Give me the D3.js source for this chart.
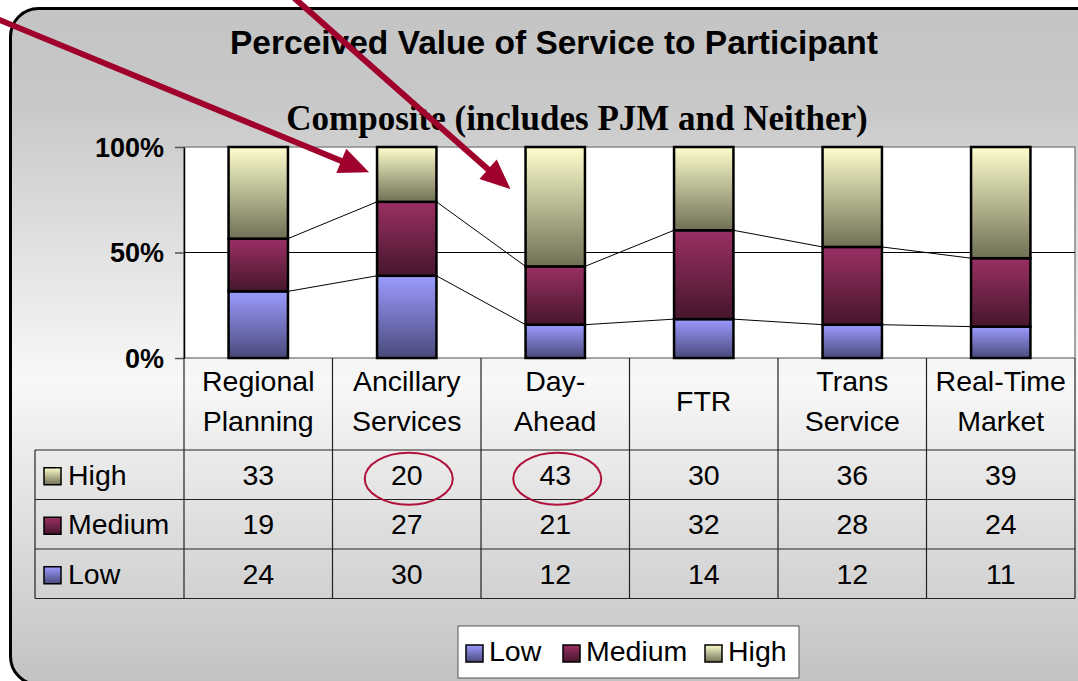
<!DOCTYPE html>
<html>
<head>
<meta charset="utf-8">
<script src="https://cdn.jsdelivr.net/npm/d3@7"></script>
<style>
    body { margin: 0; background: #fff; }
    svg { display: block; font-family: "Liberation Sans", Arial, sans-serif; }
</style>
</head>
<body>
<div id="chart"></div>
<script>
// data
var categories = ["Regional Planning", "Ancillary Services", "Day-Ahead", "FTR", "Trans Service", "Real-Time Market"];
var categoryLines = [["Regional", "Planning"], ["Ancillary", "Services"], ["Day-", "Ahead"], ["FTR"], ["Trans", "Service"], ["Real-Time", "Market"]];
var seriesNames = ["Low", "Medium", "High"];
var low = [24, 30, 12, 14, 12, 11];
var medium = [19, 27, 21, 32, 28, 24];
var high = [33, 20, 43, 30, 36, 39];
var yTicks = [0, 0.5, 1];

var width = 1078, height = 681;

var svg = d3.select("#chart").append("svg")
    .attr("width", width)
    .attr("height", height);

var defs = svg.append("defs");

// gradients for bar fills (light at top, dark at bottom)
var fills = {
    Low: ["#9b9bff", "#4a4a7c"],
    Medium: ["#9a3064", "#46162c"],
    High: ["#fdfdcc", "#707056"]
};
seriesNames.forEach(function(s) {
    var g = defs.append("linearGradient")
        .attr("id", "grad-" + s)
        .attr("x1", 0).attr("y1", 0).attr("x2", 0).attr("y2", 1);
    g.append("stop").attr("offset", "0%").attr("stop-color", fills[s][0]);
    g.append("stop").attr("offset", "100%").attr("stop-color", fills[s][1]);
});

// background gradient of the chart area
var bg = defs.append("linearGradient")
    .attr("id", "bg")
    .attr("x1", 0).attr("y1", 0).attr("x2", 0).attr("y2", 1);
bg.append("stop").attr("offset", "0%").attr("stop-color", "#c4c4c4");
bg.append("stop").attr("offset", "14%").attr("stop-color", "#c8c8c8");
bg.append("stop").attr("offset", "55%").attr("stop-color", "#f8f8f8");
bg.append("stop").attr("offset", "100%").attr("stop-color", "#c2c2c2");

// outer rounded frame
svg.append("rect")
    .attr("x", 10.5)
    .attr("y", 8.5)
    .attr("width", 1100)
    .attr("height", 676)
    .attr("rx", 28)
    .attr("fill", "url(#bg)")
    .attr("stroke", "#000")
    .attr("stroke-width", 3);

// set the ranges
var x = d3.scaleBand()
    .domain(categories)
    .range([184, 1075])
    .padding(0);

var y = d3.scaleLinear()
    .domain([0, 1])
    .range([358, 147]);

var barWidth = x.bandwidth() * 0.4;

// plot area
svg.append("rect")
    .attr("x", x.range()[0])
    .attr("y", y(1))
    .attr("width", x.range()[1] - x.range()[0])
    .attr("height", y(0) - y(1))
    .attr("fill", "#fff")
    .attr("stroke", "#888")
    .attr("stroke-width", 1.5);

// gridline at 50%
svg.append("line")
    .attr("x1", x.range()[0]).attr("x2", x.range()[1])
    .attr("y1", y(0.5)).attr("y2", y(0.5))
    .attr("stroke", "#000")
    .attr("stroke-width", 1);

// stack as 100%
var rows = categories.map(function(c, i) {
    return { category: c, Low: low[i], Medium: medium[i], High: high[i] };
});
var stacked = d3.stack()
    .keys(seriesNames)
    .offset(d3.stackOffsetExpand)(rows);

// series lines between bars (top of Low and top of Medium)
stacked.slice(0, 2).forEach(function(layer) {
    for (var i = 0; i < layer.length - 1; i++) {
        svg.append("line")
            .attr("x1", x(categories[i]) + (x.bandwidth() + barWidth) / 2)
            .attr("y1", y(layer[i][1]))
            .attr("x2", x(categories[i + 1]) + (x.bandwidth() - barWidth) / 2)
            .attr("y2", y(layer[i + 1][1]))
            .attr("stroke", "#000")
            .attr("stroke-width", 1);
    }
});

// bars
svg.selectAll(".layer")
    .data(stacked)
    .enter().append("g")
    .attr("class", "layer")
    .attr("fill", d => "url(#grad-" + d.key + ")")
    .selectAll("rect")
    .data(d => d)
    .enter().append("rect")
    .attr("x", d => x(d.data.category) + (x.bandwidth() - barWidth) / 2)
    .attr("y", d => y(d[1]))
    .attr("width", barWidth)
    .attr("height", d => y(d[0]) - y(d[1]))
    .attr("stroke", "#000")
    .attr("stroke-width", 2.5);

// y axis
var yAxis = svg.append("g")
    .attr("transform", "translate(" + x.range()[0] + ",0)")
    .call(d3.axisLeft(y)
        .tickValues(yTicks)
        .tickFormat(d3.format(".0%"))
        .tickSize(9)
        .tickSizeOuter(0));
yAxis.select(".domain").attr("stroke", "#000").attr("stroke-width", 1.5);
yAxis.selectAll(".tick line").attr("stroke", "#555").attr("stroke-width", 1.5);
yAxis.selectAll(".tick text")
    .attr("x", -20)
    .attr("dy", "0.35em")
    .style("font-family", "'Liberation Sans', Arial, sans-serif")
    .style("font-size", "27px")
    .style("font-weight", "bold")
    .attr("fill", "#000");

// data table
var tableLeft = 35, tableRight = x.range()[1];
var headerBottom = 450;
var rowHeight = 49.5;
var tableRows = [
    { name: "High", values: high },
    { name: "Medium", values: medium },
    { name: "Low", values: low }
];
var tableBottom = headerBottom + rowHeight * tableRows.length;
var grid = svg.append("g").attr("stroke", "#222").attr("stroke-width", 1.2);

// vertical lines
categories.forEach(function(c) {
    grid.append("line")
        .attr("x1", x(c)).attr("x2", x(c))
        .attr("y1", y(0)).attr("y2", tableBottom);
});
grid.append("line")
    .attr("x1", tableRight).attr("x2", tableRight)
    .attr("y1", y(0)).attr("y2", tableBottom);
grid.append("line")
    .attr("x1", tableLeft).attr("x2", tableLeft)
    .attr("y1", headerBottom).attr("y2", tableBottom);
// horizontal lines
d3.range(tableRows.length + 1).forEach(function(i) {
    grid.append("line")
        .attr("x1", tableLeft).attr("x2", tableRight)
        .attr("y1", headerBottom + i * rowHeight).attr("y2", headerBottom + i * rowHeight);
});

// category labels
categories.forEach(function(c, i) {
    var lines = categoryLines[i];
    var cy = (y(0) + headerBottom) / 2 - 3;
    var t = svg.append("text")
        .attr("x", x(c) + x.bandwidth() / 2)
        .attr("y", cy - (lines.length - 1) * 20)
        .attr("text-anchor", "middle")
        .style("font-size", "28.5px");
    lines.forEach(function(l, k) {
        t.append("tspan")
            .attr("x", x(c) + x.bandwidth() / 2)
            .attr("dy", k == 0 ? "0.35em" : "40px")
            .text(l);
    });
});

// table rows
tableRows.forEach(function(r, ri) {
    var cy = headerBottom + ri * rowHeight + rowHeight / 2;
    svg.append("rect")
        .attr("x", 44).attr("y", cy - 7)
        .attr("width", 17).attr("height", 17)
        .attr("fill", "url(#grad-" + r.name + ")")
        .attr("stroke", "#000")
        .attr("stroke-width", 1.5);
    svg.append("text")
        .attr("x", 68).attr("y", cy)
        .attr("dy", "0.35em")
        .style("font-size", "28.5px")
        .text(r.name);
    r.values.forEach(function(v, i) {
        svg.append("text")
            .attr("x", x(categories[i]) + x.bandwidth() / 2)
            .attr("y", cy)
            .attr("dy", "0.35em")
            .attr("text-anchor", "middle")
            .style("font-size", "28.5px")
            .text(v);
    });
});

// titles
svg.append("text")
    .attr("x", 554).attr("y", 54)
    .attr("text-anchor", "middle")
    .style("font-size", "33.5px")
    .style("font-weight", "bold")
    .text("Perceived Value of Service to Participant");

svg.append("text")
    .attr("x", 577).attr("y", 130)
    .attr("text-anchor", "middle")
    .style("font-family", "'Liberation Serif', 'Times New Roman', serif")
    .style("font-size", "35px")
    .style("font-weight", "bold")
    .text("Composite (includes PJM and Neither)");

// legend
var legend = svg.append("g").attr("transform", "translate(458,626)");
legend.append("rect")
    .attr("width", 341).attr("height", 52)
    .attr("fill", "#fff")
    .attr("stroke", "#555")
    .attr("stroke-width", 1);
var legendX = [8, 105, 247];
seriesNames.forEach(function(s, i) {
    legend.append("rect")
        .attr("x", legendX[i]).attr("y", 19)
        .attr("width", 17).attr("height", 17)
        .attr("fill", "url(#grad-" + s + ")")
        .attr("stroke", "#000")
        .attr("stroke-width", 1.5);
    legend.append("text")
        .attr("x", legendX[i] + 23).attr("y", 25)
        .attr("dy", "0.35em")
        .style("font-size", "28.5px")
        .text(s);
});

// annotations: circles around High values
var red = "#a0002c";
[1, 2].forEach(function(i) {
    svg.append("ellipse")
        .attr("cx", x(categories[i]) + x.bandwidth() / 2 + 2)
        .attr("cy", headerBottom + rowHeight / 2 + 4)
        .attr("rx", 44)
        .attr("ry", 26)
        .attr("fill", "none")
        .attr("stroke", "#b0123c")
        .attr("stroke-width", 2);
});

// annotations: arrows
function arrow(x0, y0, x1, y1) {
    var a = Math.atan2(y1 - y0, x1 - x0);
    var len = 30, half = 13;
    var bx = x1 - len * Math.cos(a), by = y1 - len * Math.sin(a);
    svg.append("line")
        .attr("x1", x0).attr("y1", y0)
        .attr("x2", bx + 4 * Math.cos(a)).attr("y2", by + 4 * Math.sin(a))
        .attr("stroke", red)
        .attr("stroke-width", 6);
    svg.append("polygon")
        .attr("points", [
            [x1, y1],
            [bx + half * Math.sin(a), by - half * Math.cos(a)],
            [bx - half * Math.sin(a), by + half * Math.cos(a)]
        ].map(p => p.join(",")).join(" "))
        .attr("fill", red);
}
arrow(-10, 16, x(categories[1]) + (x.bandwidth() - barWidth) / 2 - 8, y(0.88));
arrow(292, -4, x(categories[2]) + (x.bandwidth() - barWidth) / 2 - 15, y(0.8));
</script>
</body>
</html>
